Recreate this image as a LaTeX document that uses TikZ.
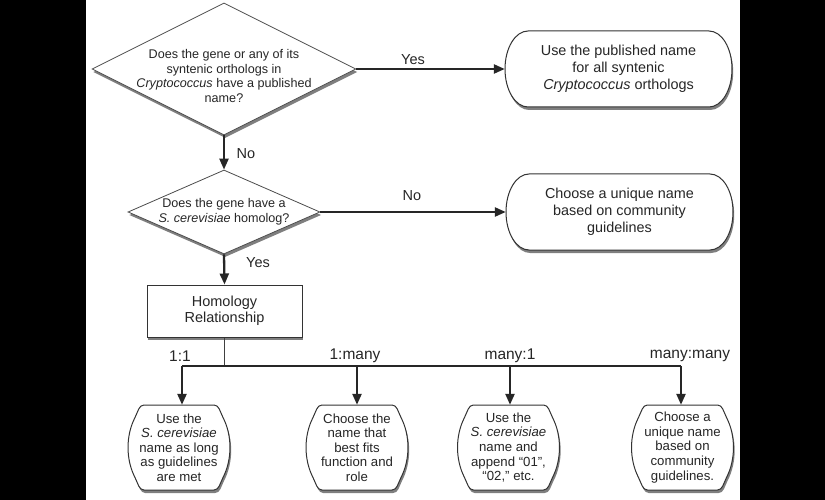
\documentclass[tikz,border=0pt]{standalone}
\usepackage{fontspec}
\setmainfont{Liberation Sans}
\usetikzlibrary{shapes.geometric,shadows,arrows.meta}
\newcommand{\stadium}[2]{%
  \path[shapeline] (#1-90.5,#2-38) -- (#1+90.5,#2-38)
    .. controls (#1+103.2,#2-38) and (#1+113.5,#2-21) .. (#1+113.5,#2)
    .. controls (#1+113.5,#2+21) and (#1+103.2,#2+38) .. (#1+90.5,#2+38)
    -- (#1-90.5,#2+38)
    .. controls (#1-103.2,#2+38) and (#1-113.5,#2+21) .. (#1-113.5,#2)
    .. controls (#1-113.5,#2-21) and (#1-103.2,#2-38) .. (#1-90.5,#2-38) -- cycle;}
\newcommand{\barrelbox}[2]{%
  \path[shapeline] (#1-35,#2-42.5) -- (#1+35,#2-42.5)
    .. controls (#1+40,#2-42.5) and (#1+41,#2-36) .. (#1+44,#2-30)
    .. controls (#1+53.3,#2-12) and (#1+53.3,#2+12) .. (#1+44,#2+30)
    .. controls (#1+41,#2+36) and (#1+40,#2+42.5) .. (#1+35,#2+42.5)
    -- (#1-35,#2+42.5)
    .. controls (#1-40,#2+42.5) and (#1-41,#2+36) .. (#1-44,#2+30)
    .. controls (#1-53.3,#2+12) and (#1-53.3,#2-12) .. (#1-44,#2-30)
    .. controls (#1-41,#2-36) and (#1-40,#2-42.5) .. (#1-35,#2-42.5) -- cycle;}
\begin{document}
\begin{tikzpicture}[x=1pt,y=-1pt,
  shad/.style={drop shadow={shadow xshift=1.2pt,shadow yshift=-3pt,fill=black,opacity=0.5}},
  shapeline/.style={draw=black!80,line width=1pt,fill=white,shad},
  dia/.style={diamond,draw=black!70,line width=0.8pt,fill=white,inner sep=0pt,shad},
  qtext/.style={align=center,font=\fontsize{12.6}{14.7}\selectfont,text=black!85,inner sep=0pt},
  rtext/.style={align=center,font=\fontsize{14.4}{17}\selectfont,text=black!85,inner sep=0pt,minimum width=227pt,minimum height=76pt},
  btext/.style={align=center,font=\fontsize{13.2}{14.6}\selectfont,text=black!85,inner sep=0pt,minimum width=102pt,minimum height=85pt},
  hbox/.style={rectangle,draw=black!80,line width=1pt,fill=white,shad,minimum width=155pt,minimum height=52pt,align=center,font=\fontsize{14.5}{16}\selectfont,text=black!85,inner sep=0pt},
  lab/.style={font=\fontsize{14.5}{16}\selectfont,text=black!85,inner sep=0pt},
  blab/.style={font=\fontsize{15.5}{17}\selectfont,text=black!85,inner sep=0pt},
  arr/.style={line width=2.3pt,draw=black!85,-{Triangle[length=11pt,width=9pt]}},
  bus/.style={line width=2.3pt,draw=black!85},
  stem/.style={line width=1.5pt,draw=black!75}]
% background
\fill[black] (0,0) rectangle (825,500);
\useasboundingbox (0,0) rectangle (825,500);
\fill[white] (86,0) rectangle (740,500);
% decisions
\node[dia,minimum width=264pt,minimum height=132pt] (d1) at (224,69) {};
\node[qtext] (d1t) at (224,76) {Does the gene or any of its\\syntenic orthologs in\\\textit{Cryptococcus} have a published\\name?};
\node[dia,minimum width=192pt,minimum height=84pt] (d2) at (224,212) {};
\node[qtext] (d2t) at (224,212) {Does the gene have a\\\textit{S. cerevisiae} homolog?};
% right results
\stadium{618.5}{69}
\node[rtext] (u1) at (618.5,69) {Use the published name\\for all syntenic\\\textit{Cryptococcus} orthologs};
\stadium{619.5}{212}
\node[rtext] (u2) at (619.5,212) {Choose a unique name\\based on community\\guidelines};
% homology box
\node[hbox] (hr) at (224.5,311) {Homology\\Relationship};
% bottom results
\barrelbox{179}{447.5}
\node[btext] (b1) at (179,447.5) {Use the\\\textit{S. cerevisiae}\\name as long\\as guidelines\\are met};
\barrelbox{357}{447.5}
\node[btext] (b2) at (357,447.5) {Choose the\\name that\\best fits\\function and\\role};
\barrelbox{508.5}{447.5}
\node[btext] (b3) at (508.5,447.5) {Use the\\\textit{S. cerevisiae}\\name  and\\append “01”,\\“02,” etc.};
\barrelbox{682.5}{447.5}
\node[btext] (b4) at (682.5,447.5) {Choose a\\unique name\\based on\\community\\guidelines.};
% connectors
\draw[arr] (d1.east) -- (u1.west);
\draw[arr] (d1.south) -- (d2.north);
\draw[arr] (d2.east) -- (u2.west);
\draw[arr] (d2.south) -- (hr.north);
\coordinate (j1) at (182,366);
\coordinate (j2) at (357,366);
\coordinate (j3) at (510,366);
\coordinate (j4) at (681,366);
\draw[stem] (hr.south) -- (hr.south |- j1);
\draw[bus] (j1) -- (j4);
\draw[arr] (j1) -- (j1 |- b1.north);
\draw[arr] (j2) -- (j2 |- b2.north);
\draw[arr] (j3) -- (j3 |- b3.north);
\draw[arr] (j4) -- (j4 |- b4.north);
% labels
\node[lab] (lyes1) at (413,60) {Yes};
\node[lab] (lno1) at (246,154) {No};
\node[lab] (lno2) at (412,196) {No};
\node[lab] (lyes2) at (258,263) {Yes};
\node[blab] (l11) at (180,356) {1:1};
\node[blab] (l1m) at (355,356) {1:many};
\node[blab] (lm1) at (510,356) {many:1};
\node[blab] (lmm) at (690,356) {many:many};
\end{tikzpicture}
\end{document}
